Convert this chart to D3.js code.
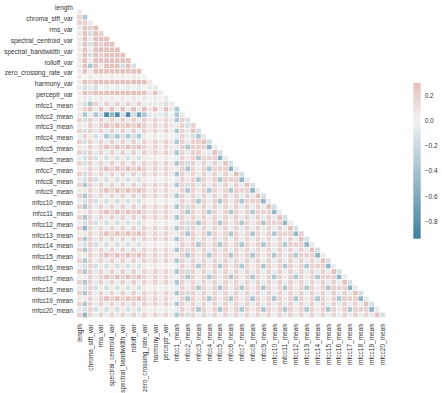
<!DOCTYPE html>
<html><head><meta charset="utf-8">
<script src="https://cdn.jsdelivr.net/npm/d3@7"></script>
<style>
body{margin:0;background:#fff;}
text{font-family:"Liberation Sans",Arial,sans-serif;}
</style>
</head><body><svg id="c" width="442" height="393"></svg>
<script>
const variables = ["length","chroma_stft_mean","chroma_stft_var","rms_mean","rms_var",
 "spectral_centroid_mean","spectral_centroid_var","spectral_bandwidth_mean","spectral_bandwidth_var",
 "rolloff_mean","rolloff_var","zero_crossing_rate_mean","zero_crossing_rate_var",
 "harmony_mean","harmony_var","perceptr_mean","perceptr_var","tempo",
 "mfcc1_mean","mfcc1_var","mfcc2_mean","mfcc2_var","mfcc3_mean","mfcc3_var","mfcc4_mean","mfcc4_var",
 "mfcc5_mean","mfcc5_var","mfcc6_mean","mfcc6_var","mfcc7_mean","mfcc7_var","mfcc8_mean","mfcc8_var",
 "mfcc9_mean","mfcc9_var","mfcc10_mean","mfcc10_var","mfcc11_mean","mfcc11_var","mfcc12_mean","mfcc12_var",
 "mfcc13_mean","mfcc13_var","mfcc14_mean","mfcc14_var","mfcc15_mean","mfcc15_var","mfcc16_mean","mfcc16_var",
 "mfcc17_mean","mfcc17_var","mfcc18_mean","mfcc18_var","mfcc19_mean","mfcc19_var","mfcc20_mean","mfcc20_var"];

// shown tick labels (every other variable)
const tickLabels = variables.filter((d,i)=>i%2===0);

// colour level codes (correlation value per code)
const levelValues = {P:0.3,p:0.2,o:0.06,"0":0,w:-0.06,b:-0.15,c:-0.25,B:-0.35,M:-0.5,D:-0.65,X:-0.85};

// lower triangle, row i holds columns 0..i-1 (written as literal segments)
const rows = [
[""],
["o"],
["pB"],
["ppw"],
["oPpP"],
["oPbPp"],
["oPoPPP"],
["oPbPpPP"],
["oPoPPPPP"],
["oPbPpPPPP"],
["oPoPPPPPPP"],
["oPBPoPPPbPb"],
["oPoPPPPPPPPP"],
["o0o0o0o0o0o00"],
["oPpPPPPPPPPPPo"],
["wbwb0w0w0w0w0ww"],
["oPpPPPPPPPPPPoPw"],
["0ow0o0o0o0o0o0o0w"],
["obBpwpwpwpwpwowobo"],
["opPwPoPoPoPoPoPoPwB"],
["oBwBbXMXbXbDBwwwb0Bw"],
["pbpwpwpwpwpwpopopoBp", "b"],
["oopopPpPpPpPpopopoop", "bp"],
["pbpwpwpwpwpwpopopoBp", "wPb"],
["wpobwBbBbBbBw0o0o0wp", "wbBw"],
["pbpwpwpwpwpwpopopoBp", "wppPb"],
["oopopPpPpPpPpopopoop", "BpppMw"],
["pbpwpwpwpwpwpopopoBp", "wppowPb"],
["wbpbobobobobo0o0o0wp", "opBpppMw"],
["pbpwpwpwpwpwpopopoBp", "b", "pwpwpw", "Pb"],
["oopopPpPpPpPpopopoop", "Bpop", "BpppMw"],
["pbpwpwpwpwpwpopopoBp", "w", "pwpwpwpw", "Pb"],
["wbpbobobobobo0o0o0wp", "opBpopBp", "ppMw"],
["pBpwpwpwpwpwpopopoBp", "b", "pwpwpwpwpw", "Pb"],
["oopopPpPpPpPpopopoop", "BpopBpop", "BpppMw"],
["pBpwpwpwpwpwpopopoBp", "w", "pwpwpwpwpw", "pw", "Pb"],
["wbpbobobobobo0o0o0wp", "opBpopBpopBp", "ppMw"],
["pBpwpwpwpwpwpopopoBp", "b", "pwpwpwpwpw", "pwpw", "Pb"],
["oopopPpPpPpPpopopoop", "BpopBpopBpop", "BpppMw"],
["pBpwpwpwpwpwpopopoBp", "w", "pwpwpwpwpw", "pwpwpw", "Pb"],
["wbpbobobobobo0o0o0wp", "bpBpopBpopBpopBp", "ppMw"],
["pMpwpwpwpwpwpopopoBp", "b", "pwpwpwpwpw", "pwpwpwpw", "Pb"],
["oopopPpPpPpPpopopoop", "BpopBpopBpopBpop", "BpppMp"],
["pBpwpwpwpwpwpopopoBp", "w", "pwpwpwpwpw", "pwpwpwpwpw", "Pb"],
["wbpbobobobobo0o0o0wp", "opBpopBpopBpopBpopBp", "ppMw"],
["pBpwpwpwpwpwpopopoBp", "b", "pwpwpwpwpw", "pwpwpwpwpw", "pw", "Pb"],
["oopopPpPpPpPpopopoop", "BpopBpopBpopBpopBpop", "BpppMw"],
["pBpwpwpwpwpwpopopoBp", "w", "pwpwpwpwpw", "pwpwpwpwpw", "pwpw", "Pb"],
["wbpbobobobobo0o0o0wp", "opBpopBpopBpopBpopBpopBp", "ppMw"],
["pBpwpwpwpwpwpopopoBp", "b", "pwpwpwpwpw", "pwpwpwpwpw", "pwpwpw", "Pb"],
["oopopPpPpPpPpopopoop", "BpopBpopBpopBpopBpopBpop", "BpppMw"],
["pBpwpwpwpwpwpopopoBp", "w", "pwpwpwpwpw", "pwpwpwpwpw", "pwpwpwpw", "Pb"],
["wbpbobobobobo0o0o0wp", "opBpopBpopBpopBpopBpopBpopBp", "ppMw"],
["pBpwpwpwpwpwpopopoBp", "b", "pwpwpwpwpw", "pwpwpwpwpw", "pwpwpwpwpw", "Pb"],
["oopopPpPpPpPpopopoop", "BpopBpopBpopBpopBpopBpopBpop", "BpppMw"],
["pBpwpwpwpwpwpopopoBp", "w", "pwpwpwpwpw", "pwpwpwpwpw", "pwpwpwpwpw", "pw", "Pb"],
["wbpbobobobobo0o0o0wp", "opBpopBpopBpopBpopBpopBpopBpopBp", "ppMw"],
["pMpwpwpwpwpwpopopoBp", "b", "pwpwpwpwpw", "pwpwpwpwpw", "pwpwpwpwpw", "pwpw", "Pb"]
];
const cbarTicks = [0.2, 0.0, -0.2, -0.4, -0.6, -0.8];
const vmin = -0.94, vmax = 0.3, center = 0;

const cells = [];
rows.forEach((segs, i) => {
  const s = segs.join("");
  for (let j = 0; j < s.length && j < i; j++) {
    cells.push({row: variables[i], col: variables[j], value: levelValues[s[j]]});
  }
});

const svg = d3.select("#c");
const gLeft = 76.8, gTop = 3.8, gSize = 313.8;
const x = d3.scaleBand().domain(variables).range([gLeft, gLeft + gSize]);
const y = d3.scaleBand().domain(variables).range([gTop, gTop + gSize]);

const vr = Math.max(vmax - center, center - vmin);
const color = d3.scaleLinear()
  .domain([center - vr, center, center + vr])
  .range(["#3f7f9f", "#f2f2f2", "#c4584a"])
  .interpolate(d3.interpolateRgb);
const fill = v => color(Math.max(vmin, Math.min(vmax, v)));

svg.append("g").selectAll("rect").data(cells).join("rect")
  .attr("x", d => x(d.col)).attr("y", d => y(d.row))
  .attr("width", x.bandwidth()).attr("height", y.bandwidth())
  .attr("fill", d => fill(d.value))
  .attr("stroke", "#fff").attr("stroke-width", 0.6);

const fontSize = "6.5px", txt = "#333";
const ay = svg.append("g").attr("transform", `translate(${gLeft},0)`)
  .call(d3.axisLeft(y).tickValues(tickLabels).tickSize(0).tickPadding(4));
const ax = svg.append("g").attr("transform", `translate(0,${gTop + gSize})`)
  .call(d3.axisBottom(x).tickValues(tickLabels).tickSize(0).tickPadding(4));
[ay, ax].forEach(g => { g.select(".domain").remove(); g.selectAll("text").attr("font-size", fontSize).attr("fill", txt).attr("font-family", "'Liberation Sans', Arial, sans-serif"); });
ay.selectAll("text").attr("dy", "0.6em");
ax.selectAll("text").attr("transform", "rotate(-90)").attr("text-anchor", "end")
  .attr("x", -6.5).attr("y", 0).attr("dy", "0.35em");

// colorbar
const cbX = 413.3, cbW = 7.4;
const cy = d3.scaleLinear().domain([vmin, vmax]).range([238.7, 82.8]);
const defs = svg.append("defs");
const grad = defs.append("linearGradient").attr("id", "cbg")
  .attr("x1", 0).attr("y1", 1).attr("x2", 0).attr("y2", 0);
d3.range(0, 1.0001, 0.05).forEach(t => {
  grad.append("stop").attr("offset", t).attr("stop-color", fill(vmin + t * (vmax - vmin)));
});
svg.append("rect").attr("x", cbX).attr("y", cy(vmax)).attr("width", cbW)
  .attr("height", cy(vmin) - cy(vmax)).attr("fill", "url(#cbg)");
const cax = svg.append("g").attr("transform", `translate(${cbX + cbW},0)`)
  .call(d3.axisRight(cy).tickValues(cbarTicks).tickSize(0).tickPadding(4).tickFormat(d => d3.format(".1f")(d).replace("-", "\u2212")));
cax.select(".domain").remove();
cax.selectAll("text").attr("font-size", fontSize).attr("fill", txt).attr("font-family", "'Liberation Sans', Arial, sans-serif");
</script>
</body></html>
